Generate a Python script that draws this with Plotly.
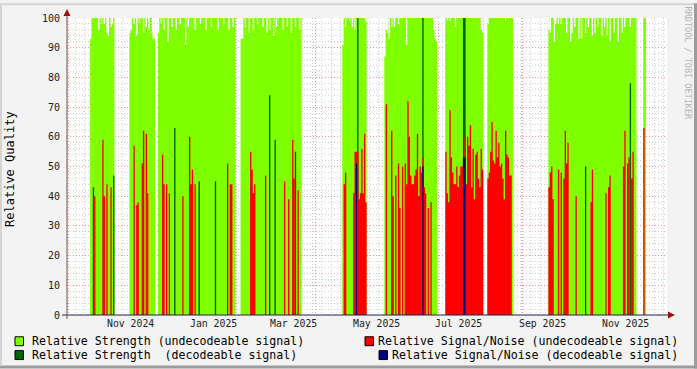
import plotly.graph_objects as go
import pandas as pd

# ---------------- data ----------------
x_range = ["2024-09-30", "2025-12-16 12:00"]

# periods where the receiver produced (undecodeable) strength values
green_blocks = [
    ("2024-10-17", "2024-11-03"),
    ("2024-11-15", "2024-12-03"),
    ("2024-12-06", "2025-01-31"),
    ("2025-02-05", "2025-03-21"),
    ("2025-04-21", "2025-05-08"),
    ("2025-05-22", "2025-06-29"),
    ("2025-07-06", "2025-08-02"),
    ("2025-08-06", "2025-08-24"),
    ("2025-09-20", "2025-11-23"),
    ("2025-11-29", "2025-11-30"),
]
# days where relative strength stayed below 100
green_dips = {
    "2024-10-17": 93, "2024-10-23": 96, "2024-10-25": 98, "2024-10-27": 98, "2024-10-29": 95,
    "2024-10-30": 94, "2024-11-01": 97, "2024-11-02": 98,
    "2024-11-15": 95, "2024-11-16": 96, "2024-11-18": 98, "2024-11-20": 94, "2024-11-22": 98,
    "2024-11-25": 95, "2024-11-27": 97, "2024-11-29": 96, "2024-12-01": 95, "2024-12-02": 93,
    "2024-12-03": 93,
    "2024-12-06": 95, "2024-12-08": 98, "2024-12-10": 96, "2024-12-13": 92, "2024-12-16": 97,
    "2024-12-19": 96, "2024-12-22": 98, "2024-12-26": 91, "2024-12-28": 97, "2025-01-02": 96,
    "2025-01-06": 98, "2025-01-10": 96, "2025-01-14": 97, "2025-01-19": 96, "2025-01-23": 98,
    "2025-01-27": 96, "2025-01-30": 97,
    "2025-02-05": 93, "2025-02-06": 93, "2025-02-08": 97, "2025-02-11": 95, "2025-02-14": 96,
    "2025-02-17": 98, "2025-02-21": 97, "2025-02-24": 95, "2025-02-26": 96, "2025-03-01": 94,
    "2025-03-03": 97, "2025-03-08": 96, "2025-03-11": 97, "2025-03-14": 95, "2025-03-17": 97,
    "2025-03-20": 96,
    "2025-04-21": 91, "2025-04-23": 97, "2025-04-26": 99, "2025-04-28": 97, "2025-04-30": 96,
    "2025-05-08": 99,
    "2025-05-22": 87, "2025-05-23": 96, "2025-05-24": 95, "2025-05-25": 93, "2025-05-27": 97,
    "2025-05-29": 97, "2025-06-01": 98, "2025-06-07": 91, "2025-06-27": 96, "2025-06-28": 93,
    "2025-06-29": 92,
    "2025-07-07": 99, "2025-07-09": 99, "2025-07-13": 97, "2025-08-01": 96, "2025-08-02": 95,
    "2025-08-06": 98, "2025-08-19": 99,
    "2025-09-20": 96, "2025-09-21": 95, "2025-09-24": 92, "2025-09-25": 98, "2025-09-27": 98,
    "2025-09-29": 98, "2025-10-03": 95, "2025-10-06": 92, "2025-10-07": 95, "2025-10-09": 97,
    "2025-10-12": 93, "2025-10-14": 93, "2025-10-17": 95, "2025-10-19": 97, "2025-10-22": 94,
    "2025-10-24": 95, "2025-10-26": 97, "2025-10-29": 94, "2025-10-31": 97, "2025-11-02": 94,
    "2025-11-04": 92, "2025-11-07": 95, "2025-11-10": 92, "2025-11-13": 95, "2025-11-15": 97,
    "2025-11-19": 97,
}

# relative strength of decodeable signal
strength_decodeable = {
    "2024-10-19": 43, "2024-11-03": 47, "2024-12-18": 63, "2025-01-05": 45, "2025-01-17": 45,
    "2025-02-26": 74, "2025-03-02": 59, "2025-03-17": 55,
    "2025-05-02": 100, "2025-06-19": 100, "2025-07-19": 100, "2025-07-20": 100,
    "2025-10-17": 50, "2025-11-19": 78,
}

# relative signal/noise (undecodeable)
snr_undecodeable = {
    "2024-10-20": 40, "2024-10-26": 59, "2024-10-27": 40, "2024-10-29": 44,
    "2024-11-01": 43,
    "2024-11-18": 57, "2024-11-20": 37, "2024-11-21": 38, "2024-11-24": 51, "2024-11-25": 62,
    "2024-11-27": 61, "2024-11-28": 41,
    "2024-12-09": 54, "2024-12-10": 44, "2024-12-12": 44, "2024-12-14": 41,
    "2024-12-24": 40, "2024-12-29": 60, "2024-12-30": 44, "2024-12-31": 49, "2025-01-02": 44,
    "2025-01-26": 51, "2025-01-28": 44, "2025-01-29": 44,
    "2025-02-12": 55, "2025-02-13": 49, "2025-02-14": 41, "2025-02-15": 44, "2025-02-23": 47,
    "2025-03-09": 45, "2025-03-12": 39, "2025-03-15": 59,
    "2025-03-16": 46, "2025-03-19": 42,
    "2025-04-22": 44, "2025-04-23": 48, "2025-04-29": 41, "2025-04-30": 55, "2025-05-01": 55,
    "2025-05-02": 55, "2025-05-03": 39, "2025-05-04": 41, "2025-05-05": 56, "2025-05-06": 41,
    "2025-05-07": 61, "2025-05-08": 38,
    "2025-05-23": 71, "2025-05-27": 62, "2025-05-28": 40, "2025-05-30": 47, "2025-06-01": 51,
    "2025-06-02": 36, "2025-06-04": 50, "2025-06-06": 51, "2025-06-07": 44, "2025-06-08": 72,
    "2025-06-09": 60, "2025-06-10": 47, "2025-06-11": 44, "2025-06-12": 44, "2025-06-13": 47,
    "2025-06-14": 49, "2025-06-15": 61, "2025-06-16": 40, "2025-06-17": 50, "2025-06-18": 48,
    "2025-06-19": 53, "2025-06-20": 43, "2025-06-21": 41, "2025-06-23": 36, "2025-06-25": 38,
    "2025-07-06": 55, "2025-07-07": 41, "2025-07-08": 38, "2025-07-09": 69, "2025-07-10": 53,
    "2025-07-11": 48, "2025-07-12": 44, "2025-07-13": 44, "2025-07-14": 50, "2025-07-15": 43,
    "2025-07-16": 47, "2025-07-17": 50, "2025-07-18": 50, "2025-07-19": 53, "2025-07-20": 60,
    "2025-07-21": 44, "2025-07-22": 60, "2025-07-23": 57, "2025-07-24": 64, "2025-07-25": 43,
    "2025-07-26": 56, "2025-07-27": 39, "2025-07-28": 54, "2025-07-29": 55, "2025-07-30": 46,
    "2025-07-31": 43, "2025-08-01": 56, "2025-08-02": 49,
    "2025-08-06": 46, "2025-08-07": 48, "2025-08-08": 55, "2025-08-09": 65, "2025-08-10": 52,
    "2025-08-11": 51, "2025-08-12": 62, "2025-08-13": 53, "2025-08-14": 58, "2025-08-15": 50,
    "2025-08-16": 51, "2025-08-17": 46, "2025-08-18": 39, "2025-08-19": 62, "2025-08-20": 54,
    "2025-08-21": 53, "2025-08-22": 47, "2025-08-23": 47,
    "2025-09-20": 43, "2025-09-21": 48, "2025-09-22": 50, "2025-09-23": 39, "2025-09-27": 49,
    "2025-09-29": 48, "2025-10-01": 46, "2025-10-02": 62, "2025-10-03": 51, "2025-10-04": 58,
    "2025-10-10": 40, "2025-10-21": 38, "2025-10-22": 49, "2025-11-01": 41,
    "2025-11-03": 43, "2025-11-04": 47, "2025-11-14": 50, "2025-11-15": 62, "2025-11-17": 51,
    "2025-11-18": 53, "2025-11-20": 46, "2025-11-21": 55,
    "2025-11-29": 63,
}

# relative signal/noise (decodeable)
snr_decodeable = {
    "2025-05-01": 51, "2025-06-19": 50, "2025-07-19": 53, "2025-07-20": 53,
}

tick_dates = ["2024-11-16", "2025-01-16", "2025-03-16", "2025-05-16",
              "2025-07-16", "2025-09-16", "2025-11-16"]
tick_labels = ["Nov 2024", "Jan 2025", "Mar 2025", "May 2025",
               "Jul 2025", "Sep 2025", "Nov 2025"]

legend_names = [
    "Relative Strength (undecodeable signal)",
    "Relative Strength\u00a0 (decodeable signal)",
    "Relative Signal/Noise (undecodeable signal)",
    "Relative Signal/Noise (decodeable signal)",
]
colors = ["#80ff00", "#006400", "#ff0000", "#000080"]

# ---------------- helpers ----------------
DAY = pd.Timedelta(days=1)


def step_series(day_values):
    """daily values -> step (hv) polyline, dropping to 0 between runs"""
    days = sorted(pd.Timestamp(k) for k in day_values)
    xs, ys = [], []
    prev = None
    for d in days:
        if prev is not None and d - prev != DAY:
            xs.append(prev + DAY)
            ys.append(0)
        xs.append(d)
        ys.append(day_values[d.strftime("%Y-%m-%d")])
        prev = d
    xs.append(prev + DAY)
    ys.append(0)
    return xs, ys


green_values = {}
for s, e in green_blocks:
    for d in pd.date_range(s, e, freq="D"):
        k = d.strftime("%Y-%m-%d")
        green_values[k] = green_dips.get(k, 100)

series = [green_values, strength_decodeable, snr_undecodeable, snr_decodeable]

fig = go.Figure()
for vals, col, name in zip(series, colors, legend_names):
    xs, ys = step_series(vals)
    fig.add_trace(go.Scatter(
        x=xs, y=ys, mode="lines", line=dict(width=0, shape="hv"),
        fill="tozeroy", fillcolor=col, name=name, showlegend=False,
        hoverinfo="skip"))

mono = "DejaVu Sans Mono"
W, H = 697, 369
L, R, T, B = 67, 30, 15, 54
PW, PH = W - L - R, H - T - B


def px(x):
    return (x - L) / PW


def py(y):
    return (H - B - y) / PH


fig.update_layout(
    width=W, height=H,
    margin=dict(l=L, r=R, t=T, b=B, pad=0),
    paper_bgcolor="#f3f3f3", plot_bgcolor="#ffffff",
    showlegend=False,
    font=dict(family=mono, color="#000000"),
    xaxis=dict(
        type="date", range=x_range, showticklabels=False, ticks="",
        showgrid=True, tick0="2024-10-01", dtick="M1",
        gridcolor="rgba(222,120,120,0.75)", gridwidth=1, griddash="1px,2px",
        minor=dict(showgrid=True, tick0="2024-10-06", dtick=7 * 86400000,
                   gridcolor="rgba(170,170,170,0.55)", griddash="1px,2px", gridwidth=1),
        zeroline=False, showline=False, fixedrange=True,
    ),
    yaxis=dict(
        range=[0, 100], tick0=0, dtick=10, showgrid=True,
        gridcolor="rgba(222,120,120,0.75)", gridwidth=1, griddash="1px,2px",
        minor=dict(showgrid=True, dtick=2, gridcolor="rgba(170,170,170,0.55)",
                   griddash="1px,2px", gridwidth=1),
        ticks="", ticklabelstandoff=6,
        tickfont=dict(family=mono, size=10, color="#222222"),
        zeroline=False, showline=False, fixedrange=True,
    ),
)

annotations = []
for d, t in zip(tick_dates, tick_labels):
    annotations.append(dict(x=d, xref="x", y=py(324), yref="paper", text=t,
                            showarrow=False, xanchor="center", yanchor="middle",
                            font=dict(family=mono, size=9.8, color="#222222")))

annotations.append(dict(x=px(10.5), y=py(168), xref="paper", yref="paper",
                        text="Relative Quality", textangle=-90, showarrow=False,
                        xanchor="center", yanchor="middle",
                        font=dict(family=mono, size=12, color="#000000")))
annotations.append(dict(x=px(688), y=py(60), xref="paper", yref="paper",
                        text="RRDTOOL / TOBI OETIKER", textangle=90, showarrow=False,
                        xanchor="center", yanchor="middle",
                        font=dict(family=mono, size=8.5, color="#b4b4b4")))

# legend
leg_rows = [341.5, 355.5]
shapes = []
leg_specs = [
    (0, 15, 30, "left"),
    (1, 15, 30, "left"),
    (2, 365, 680, "right"),
    (3, 379, 680, "right"),
]
for i, (idx, sqx, tx, anchor) in enumerate(leg_specs):
    row = leg_rows[idx % 2]
    shapes.append(dict(type="rect", xref="paper", yref="paper",
                       x0=px(sqx), x1=px(sqx + 8.5), y0=py(row - 4.5), y1=py(row + 4.5),
                       fillcolor=colors[idx], line=dict(color="#000000", width=1)))
    annotations.append(dict(x=px(tx), y=py(row), xref="paper", yref="paper",
                            text=legend_names[idx], showarrow=False,
                            xanchor=anchor, yanchor="middle",
                            font=dict(family=mono, size=11.6, color="#000000")))

# axes lines and arrows
shapes.append(dict(type="line", xref="paper", yref="paper", x0=px(62), x1=px(668),
                   y0=0, y1=0, line=dict(color="#202050", width=1)))
shapes.append(dict(type="line", xref="paper", yref="paper", x0=0, x1=0,
                   y0=py(319), y1=py(12), line=dict(color="#6a4a4a", width=1)))
shapes.append(dict(type="path", xref="paper", yref="paper",
                   path=f"M {px(668)} {py(311.5)} L {px(675)} {py(315)} L {px(668)} {py(318.5)} Z",
                   fillcolor="#9a1010", line=dict(width=0)))
shapes.append(dict(type="path", xref="paper", yref="paper",
                   path=f"M {px(63.5)} {py(13)} L {px(67)} {py(6)} L {px(70.5)} {py(13)} Z",
                   fillcolor="#9a1010", line=dict(width=0)))

# 3d frame
shapes.append(dict(type="line", xref="paper", yref="paper", x0=px(0), x1=px(W),
                   y0=py(H - 1.5), y1=py(H - 1.5), line=dict(color="#9c9c9c", width=3)))
shapes.append(dict(type="line", xref="paper", yref="paper", x0=px(W - 1.5), x1=px(W - 1.5),
                   y0=py(0), y1=py(H), line=dict(color="#9c9c9c", width=3)))
shapes.append(dict(type="line", xref="paper", yref="paper", x0=px(0), x1=px(W - 3),
                   y0=py(1), y1=py(1), line=dict(color="#d4d4d4", width=2)))
shapes.append(dict(type="line", xref="paper", yref="paper", x0=px(1), x1=px(1),
                   y0=py(0), y1=py(H - 3), line=dict(color="#d4d4d4", width=2)))

fig.update_layout(annotations=annotations, shapes=shapes)
fig.write_html("out.html")
